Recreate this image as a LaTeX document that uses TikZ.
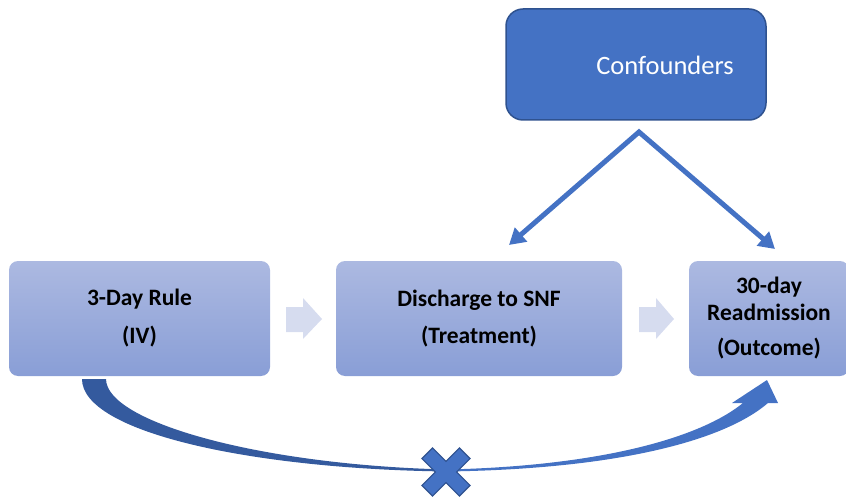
\documentclass[tikz,border=0pt]{standalone}
\usepackage{fontspec}
\setmainfont{Carlito}
\usetikzlibrary{arrows.meta}

\definecolor{accent}{HTML}{4472C4}
\definecolor{accentdark}{HTML}{2F528F}
\definecolor{curveshade}{HTML}{345A9E}
\definecolor{boxtop}{RGB}{172,185,225}
\definecolor{boxbottom}{RGB}{137,158,214}
\definecolor{stepfill}{RGB}{214,220,239}

\begin{document}
\begin{tikzpicture}[x=1pt,y=-1pt,
  stagebox/.style={rounded corners=9pt, top color=boxtop, bottom color=boxbottom,
    draw=none, inner sep=0pt, minimum height=115pt,
    font=\fontsize{23.5}{27}\selectfont\bfseries, align=center},
  confbox/.style={rounded corners=17pt, fill=accent, draw=accentdark,
    line width=1.5pt, minimum width=260pt, minimum height=111pt, inner sep=0pt},
  conflink/.style={draw=accent, line width=5pt, line join=miter,
    {Triangle[length=16pt,width=18pt]}-{Triangle[length=16pt,width=18pt]}},
  stepfill/.style={fill=stepfill, draw=none},
]
\useasboundingbox (0,0) rectangle (846,497);
\clip (0,0) rectangle (846,497);

% confounders box and its label
\node[confbox] (conf) at (636,64.5) {};
\node[font=\fontsize{26.5}{30}\selectfont, text=white, inner sep=0pt] (conflabel) at (665,65) {Confounders};

% the three stages
\node[stagebox, minimum width=261pt] (iv) at (139.5,318.5) {3-Day Rule\\[11pt](IV)};
\node[stagebox, minimum width=286pt] (treat) at (479,318.5) {Discharge to SNF\\[10pt](Treatment)};
\node[stagebox, minimum width=160pt] (out) at (769,318.5) {30-day\\Readmission\\[8pt](Outcome)};

% arrows from confounders
\coordinate (apex) at (639,132);
\coordinate (treattip) at (509,245);
\coordinate (outtip) at (775,249);
\draw[conflink] (treattip) -- (apex) -- (outtip);

% block arrows between stages
\fill[stepfill] (286,307) -- (303,307) -- (303,298) -- (322,319) -- (303,339) -- (303,332) -- (286,332) -- cycle;
\fill[stepfill] (639,307) -- (656,307) -- (656,298) -- (674,319) -- (656,339) -- (656,332) -- (639,332) -- cycle;

% curved arrow from the IV to the outcome, blocked
\coordinate (cross) at (446,472);
\fill[accent] (447,471.5) .. controls (620,469) and (725,440) .. (768,403)
  -- (778,403) -- (767,380) -- (732,403) -- (743,403)
  .. controls (700,438) and (600,466) .. (447,469.5) -- cycle;
\fill[curveshade] (82,379) .. controls (82,432) and (250,469) .. (447,471.5)
  -- (447,469.5) .. controls (260,465) and (106,422) .. (106,379) -- cycle;
\fill[accent, draw=accentdark, line width=1.2pt, shift={(cross)}, rotate=45]
  (-26.5,-7.5) -- (-7.5,-7.5) -- (-7.5,-26.5) -- (7.5,-26.5) -- (7.5,-7.5)
  -- (26.5,-7.5) -- (26.5,7.5) -- (7.5,7.5) -- (7.5,26.5) -- (-7.5,26.5)
  -- (-7.5,7.5) -- (-26.5,7.5) -- cycle;
\end{tikzpicture}
\end{document}
